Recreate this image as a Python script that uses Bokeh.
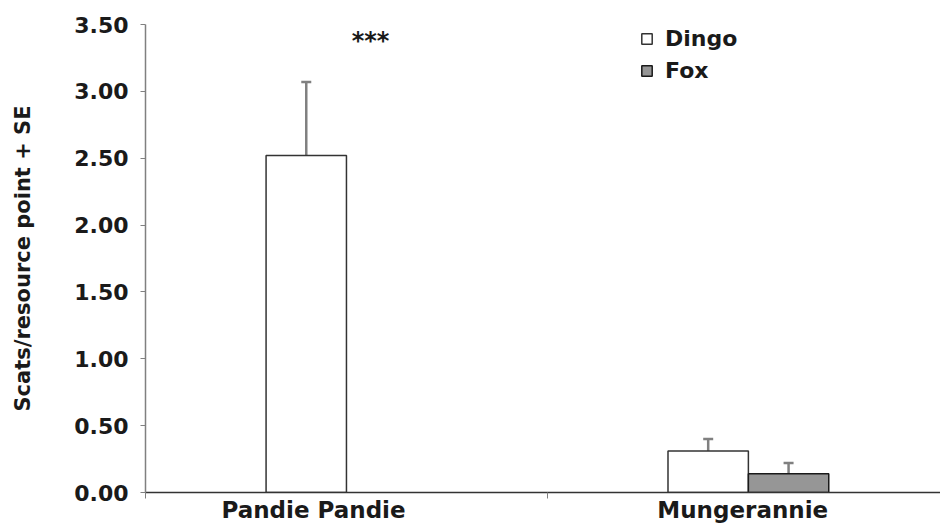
import numpy as np
from bokeh.plotting import figure
from bokeh.models import (ColumnDataSource, FixedTicker, Whisker, TeeHead, Legend,
                          LegendItem, Label, Range1d, NumeralTickFormatter)
from bokeh.embed import file_html
from bokeh.resources import INLINE

# ---- data ----
sites = ["Pandie Pandie", "Mungerannie"]
dingo_mean = [2.52, 0.31]
dingo_se = [0.55, 0.09]
fox_mean = [0.0, 0.14]
fox_se = [0.0, 0.08]
y_ticks = [0.0, 0.5, 1.0, 1.5, 2.0, 2.5, 3.0, 3.5]
sig_text = "***"
sig_site = "Pandie Pandie"

FONT = "DejaVu Sans"
TXT = "#1a1a1a"

centers = np.arange(len(sites)) + 0.5
bar_w = 0.2
# horizontal nudge of the category names relative to the group centre (as in the original)
label_nudge = [-0.082, -0.014]

def make_src(means, ses, offset):
    rows = [(c + offset, m, m + s) for c, m, s in zip(centers, means, ses) if m > 0]
    return ColumnDataSource(dict(x=[r[0] for r in rows], top=[r[1] for r in rows],
                                 upper=[r[2] for r in rows]))

dsrc = make_src(dingo_mean, dingo_se, -bar_w / 2)
fsrc = make_src(fox_mean, fox_se, bar_w / 2)

p = figure(width=940, height=525, output_backend="svg", toolbar_location=None,
           x_range=Range1d(0, 1.978), y_range=Range1d(0, 3.5),
           min_border_left=145, min_border_right=0, min_border_top=24, min_border_bottom=33)
p.outline_line_color = None
p.grid.visible = False
p.background_fill_color = "white"
p.border_fill_color = "white"

dr = p.vbar(x="x", top="top", width=bar_w, bottom=0, source=dsrc,
            fill_color="white", line_color="#333333", line_width=1.5)
fr = p.vbar(x="x", top="top", width=bar_w, bottom=0, source=fsrc,
            fill_color="#969696", line_color="#1a1a1a", line_width=1.5)

for src in (dsrc, fsrc):
    w = Whisker(base="x", lower="top", upper="upper", source=src,
                line_color="#808080", line_width=2.5,
                upper_head=TeeHead(size=10, line_color="#808080", line_width=2.5),
                lower_head=None)
    p.add_layout(w)

# y axis
p.yaxis.ticker = FixedTicker(ticks=y_ticks, minor_ticks=[])
p.yaxis.formatter = NumeralTickFormatter(format="0.00")
p.yaxis.major_label_text_font = FONT
p.yaxis.major_label_text_font_style = "bold"
p.yaxis.major_label_text_font_size = "22px"
p.yaxis.major_label_text_color = TXT
p.yaxis.major_label_standoff = 12
p.yaxis.major_tick_out = 5
p.yaxis.major_tick_in = 0
p.yaxis.major_tick_line_color = "#808080"
p.yaxis.axis_line_color = "#808080"
p.yaxis.axis_line_width = 1.5
p.yaxis.axis_label = "Scats/resource point + SE"
p.yaxis.axis_label_text_font = FONT
p.yaxis.axis_label_text_font_style = "bold"
p.yaxis.axis_label_text_font_size = "21px"
p.yaxis.axis_label_text_color = TXT
p.yaxis.axis_label_standoff = 36

# x axis: category names under the groups, separators as minor ticks
label_pos = [float(c + d) for c, d in zip(centers, label_nudge)]
p.xaxis.ticker = FixedTicker(ticks=label_pos,
                             minor_ticks=list(np.arange(len(sites) + 1)))
p.xaxis.major_label_overrides = {x: s for x, s in zip(label_pos, sites)}
p.xaxis.major_tick_out = 0
p.xaxis.major_tick_in = 0
p.xaxis.minor_tick_out = 6
p.xaxis.minor_tick_in = 0
p.xaxis.minor_tick_line_color = "#808080"
p.xaxis.axis_line_color = "#333333"
p.xaxis.axis_line_width = 1.5
p.xaxis.major_label_standoff = -2
p.xaxis.major_label_text_font = FONT
p.xaxis.major_label_text_font_style = "bold"
p.xaxis.major_label_text_font_size = "23px"
p.xaxis.major_label_text_color = TXT

sig_x = centers[sites.index(sig_site)] + 0.06
sig_y = max(m + s for m, s in zip(dingo_mean, dingo_se)) + 0.31
p.add_layout(Label(x=sig_x, y=sig_y, text=sig_text, text_align="center",
                   text_baseline="middle", text_font=FONT, text_font_style="bold",
                   text_font_size="24px", text_color=TXT))

legend = Legend(items=[LegendItem(label="Dingo", renderers=[dr]),
                       LegendItem(label="Fox", renderers=[fr])],
                location=(495, 409), orientation="vertical",
                glyph_width=13, glyph_height=13, label_height=22, label_standoff=12,
                spacing=7, padding=0, margin=0, border_line_color=None,
                background_fill_alpha=0,
                label_text_font=FONT, label_text_font_style="bold",
                label_text_font_size="22px", label_text_color=TXT,
                label_text_baseline="middle")
p.add_layout(legend)

open("out.html", "w").write(file_html(p, INLINE))
